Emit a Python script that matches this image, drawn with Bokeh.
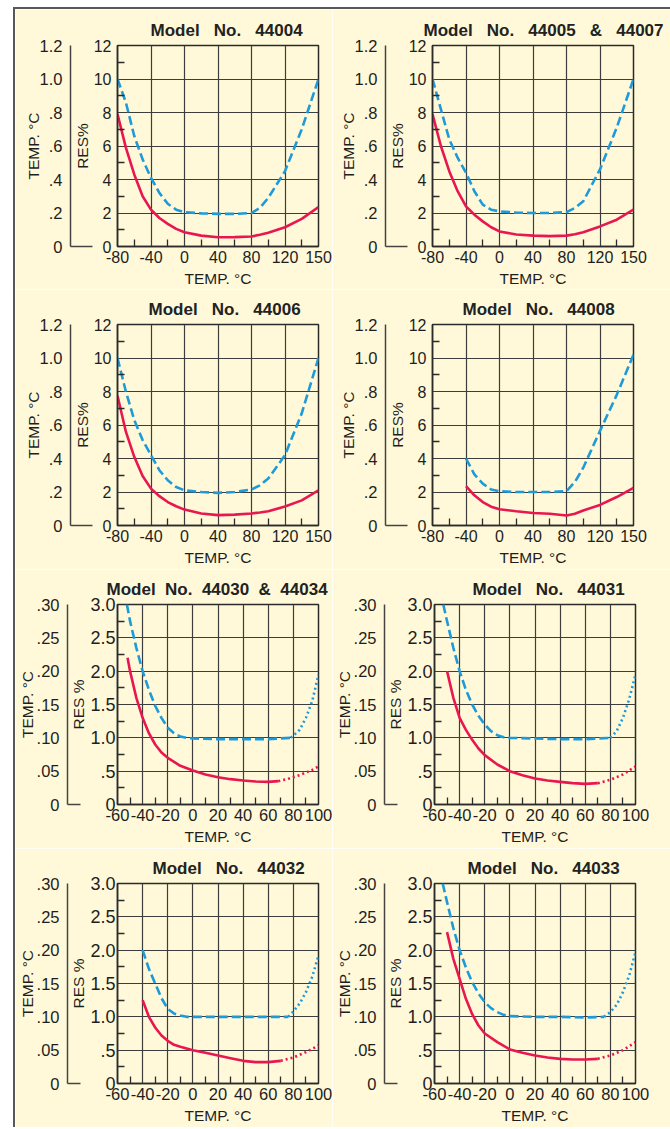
import numpy as np
from bokeh.plotting import figure
from bokeh.models import Range1d, LinearAxis, FixedTicker, Spacer
from bokeh.layouts import row, column
from bokeh.embed import file_html
from bokeh.resources import INLINE

# ---------------- data ----------------
top_x_temps = [-80, -40, 0, 40, 80, 120, 150]
top_x_labels = ["-80", "-40", "0", "40", "80", "120", "150"]
top_res_ticks = [0, 2, 4, 6, 8, 10, 12]
top_res_labels = ["0", "2", "4", "6", "8", "10", "12"]
top_temp_ticks = [0, 0.2, 0.4, 0.6, 0.8, 1.0, 1.2]
top_temp_labels = ["0", ".2", ".4", ".6", ".8", "1.0", "1.2"]

bot_x_ticks = [-60, -40, -20, 0, 20, 40, 60, 80, 100]
bot_x_labels = ["-60", "-40", "-20", "0", "20", "40", "60", "80", "100"]
bot_res_ticks = [0, 0.5, 1.0, 1.5, 2.0, 2.5, 3.0]
bot_res_labels = ["0", ".5", "1.0", "1.5", "2.0", "2.5", "3.0"]
bot_temp_ticks = [0, 0.05, 0.10, 0.15, 0.20, 0.25, 0.30]
bot_temp_labels = ["0", ".05", ".10", ".15", ".20", ".25", ".30"]

titles = ["Model No. 44004", "Model No. 44005 & 44007",
          "Model No. 44006", "Model No. 44008",
          "Model No. 44030 & 44034", "Model No. 44031",
          "Model No. 44032", "Model No. 44033"]

# Models 44004-44008 : RES% (dashed) and TEMP (solid) against temperature in deg C
t_44004 = [-80, -70, -60, -50, -40, -30, -20, -10, 0, 20, 40, 60, 80, 90, 100, 120, 135, 150]
res_44004 = [10.0, 8.6, 6.6, 5.2, 4.1, 3.2, 2.55, 2.2, 2.05, 1.98, 1.95, 1.95, 2.0, 2.3, 2.9, 4.5, 7.0, 10.0]
tmp_44004 = [7.9, 5.9, 4.3, 3.0, 2.2, 1.7, 1.35, 1.05, 0.85, 0.65, 0.55, 0.56, 0.6, 0.7, 0.82, 1.15, 1.65, 2.35]

t_44005 = [-80, -70, -60, -50, -40, -30, -20, -10, 0, 20, 40, 60, 80, 90, 100, 120, 135, 150]
res_44005 = [10.0, 8.2, 6.4, 5.3, 4.4, 3.3, 2.5, 2.2, 2.1, 2.02, 2.0, 2.0, 2.05, 2.3, 2.7, 4.6, 7.1, 10.0]
tmp_44005 = [7.9, 6.0, 4.5, 3.3, 2.4, 1.9, 1.5, 1.15, 0.9, 0.72, 0.65, 0.62, 0.65, 0.73, 0.85, 1.2, 1.6, 2.2]

t_44006 = [-80, -70, -60, -50, -40, -30, -20, -10, 0, 20, 40, 60, 80, 90, 100, 120, 135, 150]
res_44006 = [10.0, 8.0, 6.3, 5.1, 4.2, 3.3, 2.7, 2.3, 2.1, 2.0, 1.95, 2.0, 2.15, 2.4, 2.8, 4.2, 6.7, 10.0]
tmp_44006 = [7.75, 5.6, 4.1, 2.95, 2.2, 1.75, 1.4, 1.15, 0.95, 0.72, 0.62, 0.65, 0.72, 0.78, 0.85, 1.13, 1.5, 2.1]

t_44008 = [-40, -30, -20, -10, 0, 20, 40, 60, 80, 90, 100, 120, 135, 150]
res_44008 = [4.0, 3.05, 2.5, 2.15, 2.05, 2.0, 2.0, 2.0, 2.05, 2.6, 3.45, 5.65, 7.8, 10.2]
tmp_44008 = [2.35, 1.8, 1.4, 1.12, 0.97, 0.85, 0.75, 0.7, 0.6, 0.7, 0.9, 1.23, 1.7, 2.25]

# Models 44030-44033 : main part and dotted extension
t_res_44030 = [-52.5, -50, -45, -40, -35, -30, -25, -20, -15, -10, -5, 0, 20, 40, 60, 78]
res_44030 = [3.0, 2.75, 2.35, 2.0, 1.72, 1.48, 1.3, 1.15, 1.07, 1.02, 1.0, 0.99, 0.98, 0.98, 0.98, 1.0]
t_res_ext_44030 = [78, 85, 90, 95, 100]
res_ext_44030 = [1.0, 1.12, 1.3, 1.55, 1.95]
t_tmp_44030 = [-52, -50, -45, -40, -35, -30, -25, -20, -10, 0, 10, 20, 30, 40, 50, 60, 68]
tmp_44030 = [2.2, 2.0, 1.6, 1.3, 1.07, 0.9, 0.78, 0.7, 0.58, 0.51, 0.45, 0.41, 0.38, 0.36, 0.345, 0.34, 0.35]
t_tmp_ext_44030 = [68, 75, 80, 85, 90, 95, 100]
tmp_ext_44030 = [0.35, 0.38, 0.41, 0.44, 0.48, 0.52, 0.57]

t_res_44031 = [-53, -50, -45, -40, -35, -30, -25, -20, -15, -10, -5, 0, 20, 40, 60, 80]
res_44031 = [3.0, 2.75, 2.35, 2.0, 1.72, 1.5, 1.33, 1.2, 1.1, 1.04, 1.01, 1.0, 0.99, 0.98, 0.98, 1.0]
t_res_ext_44031 = [80, 85, 90, 95, 100]
res_ext_44031 = [1.0, 1.1, 1.3, 1.58, 1.95]
t_tmp_44031 = [-50, -45, -40, -35, -30, -25, -20, -10, 0, 10, 20, 30, 40, 50, 60, 70]
tmp_44031 = [2.0, 1.6, 1.3, 1.12, 0.97, 0.84, 0.74, 0.6, 0.5, 0.44, 0.39, 0.36, 0.34, 0.32, 0.31, 0.32]
t_tmp_ext_44031 = [70, 80, 90, 100]
tmp_ext_44031 = [0.32, 0.37, 0.45, 0.57]

t_res_44032 = [-40, -35, -30, -25, -20, -15, -10, -5, 0, 20, 40, 60, 76]
res_44032 = [2.0, 1.72, 1.5, 1.28, 1.12, 1.05, 1.02, 1.0, 1.0, 1.0, 1.0, 1.0, 1.0]
t_res_ext_44032 = [76, 80, 85, 90, 95, 100]
res_ext_44032 = [1.0, 1.08, 1.2, 1.37, 1.6, 1.92]
t_tmp_44032 = [-40, -35, -30, -25, -20, -15, -10, 0, 10, 20, 30, 40, 50, 60, 70]
tmp_44032 = [1.25, 1.0, 0.84, 0.72, 0.64, 0.58, 0.55, 0.5, 0.46, 0.42, 0.38, 0.34, 0.32, 0.32, 0.34]
t_tmp_ext_44032 = [70, 80, 90, 100]
tmp_ext_44032 = [0.34, 0.39, 0.47, 0.57]

t_res_44033 = [-53.5, -50, -45, -40, -35, -30, -25, -20, -15, -10, -5, 0, 20, 40, 60, 75]
res_44033 = [3.0, 2.72, 2.33, 2.0, 1.74, 1.52, 1.35, 1.22, 1.13, 1.07, 1.03, 1.01, 1.0, 1.0, 0.99, 1.0]
t_res_ext_44033 = [75, 80, 85, 90, 95, 100]
res_ext_44033 = [1.0, 1.07, 1.18, 1.37, 1.62, 1.97]
t_tmp_44033 = [-50, -45, -40, -35, -30, -25, -20, -10, 0, 10, 20, 30, 40, 50, 60, 70]
tmp_44033 = [2.27, 1.87, 1.57, 1.27, 1.04, 0.87, 0.75, 0.62, 0.51, 0.46, 0.42, 0.39, 0.37, 0.36, 0.36, 0.37]
t_tmp_ext_44033 = [70, 80, 90, 100]
tmp_ext_44033 = [0.37, 0.42, 0.5, 0.62]

# ---------------- styles ----------------
CREAM = "#FFF9D9"
INK = "#2b2b2b"
GRID = "#3d3d3d"
BLUE = "#1F9AD9"
RED = "#E8174F"
FONT = "Liberation Sans"
TEXT = "#1e1e1e"


def style_text(ax, tick_fs, label_fs="15.5px"):
    ax.major_label_text_font = FONT
    ax.major_label_text_font_size = tick_fs
    ax.major_label_text_color = TEXT
    ax.axis_label_text_font = FONT
    ax.axis_label_text_font_size = label_fs
    ax.axis_label_text_font_style = "normal"
    ax.axis_label_text_color = TEXT


def make_panel(title, title_offset, title_gap, top, right_col, border_top, border_bottom, series):
    if top:
        xr, yr, tr = Range1d(0, 6), Range1d(0, 12), Range1d(0, 1.2)
        fh = 201
    else:
        xr, yr, tr = Range1d(-60, 100), Range1d(0, 3), Range1d(0, 0.30)
        fh = 200
    p = figure(frame_width=201, frame_height=fh, x_range=xr, y_range=yr,
               min_border_left=100 if right_col else 102,
               min_border_right=37 if right_col else 14,
               min_border_top=border_top, min_border_bottom=border_bottom,
               output_backend="svg", toolbar_location=None,
               background_fill_color=CREAM, border_fill_color=CREAM,
               outline_line_color=INK, outline_line_width=1.5)
    p.extra_y_ranges = {"temp": tr}

    gap = "\u00a0" * title_gap
    p.title.text = title.replace(" ", gap)
    p.title.align = "left"
    p.title.offset = title_offset
    p.title.text_font = FONT
    p.title.text_font_size = "17px"
    p.title.text_font_style = "bold"
    p.title.text_color = "#222222"
    p.title.standoff = 11

    if top:
        xt = list(range(len(top_x_temps)))
        xminor = [i + 0.5 for i in xt[:-1]]
        xover = dict(zip(xt, top_x_labels))
        yt, ylab = top_res_ticks, top_res_labels
        yminor = [v + 1 for v in top_res_ticks[:-1]]
        tt, tlab = top_temp_ticks, top_temp_labels
        res_title = "RES%"
        foot = 22
        x_fs, res_fs, tmp_fs = "16px", "16px", "16.5px"
        spacer, res_standoff, tmp_lab_standoff = 9, 6, 8
    else:
        xt = bot_x_ticks
        xminor = [v + 10 for v in bot_x_ticks[:-1]]
        xover = dict(zip(xt, bot_x_labels))
        yt, ylab = bot_res_ticks, bot_res_labels
        yminor = [v + 0.25 for v in bot_res_ticks[:-1]]
        tt, tlab = bot_temp_ticks, bot_temp_labels
        res_title = "RES %"
        foot = 13
        x_fs, res_fs, tmp_fs = "16.5px", "18px", "16.5px"
        spacer, res_standoff, tmp_lab_standoff = 8, 2, -2

    # bottom axis
    xa = p.xaxis[0]
    xa.ticker = FixedTicker(ticks=xt, minor_ticks=xminor)
    xa.major_label_overrides = xover
    xa.major_tick_in = 0
    xa.major_tick_out = 0
    xa.minor_tick_in = 7
    xa.minor_tick_out = 0
    xa.minor_tick_line_color = INK
    xa.minor_tick_line_width = 1.3
    xa.axis_line_color = INK
    xa.axis_line_width = 1.5
    xa.major_label_standoff = 4
    xa.axis_label = "TEMP. \u00b0C"
    xa.axis_label_standoff = 4
    style_text(xa, x_fs)

    # RES axis
    ya = p.yaxis[0]
    ya.ticker = FixedTicker(ticks=yt, minor_ticks=yminor)
    ya.major_label_overrides = dict(zip(yt, ylab))
    ya.major_tick_in = 0
    ya.major_tick_out = 0
    ya.minor_tick_in = 7
    ya.minor_tick_out = 0
    ya.minor_tick_line_color = INK
    ya.minor_tick_line_width = 1.3
    ya.axis_line_color = INK
    ya.axis_line_width = 1.5
    ya.major_label_standoff = res_standoff
    ya.axis_label = res_title
    ya.axis_label_standoff = 0
    style_text(ya, res_fs)

    # invisible spacer axis between the two vertical scales
    sp = LinearAxis(y_range_name="temp", ticker=FixedTicker(ticks=[]),
                    axis_line_color=None, major_tick_out=spacer, major_tick_in=0,
                    major_tick_line_color=None, minor_tick_out=0, minor_tick_in=0,
                    minor_tick_line_color=None)
    p.add_layout(sp, "left")

    # TEMP axis
    ta = LinearAxis(y_range_name="temp",
                    ticker=FixedTicker(ticks=tt, minor_ticks=[0]),
                    major_label_overrides=dict(zip(tt, tlab)),
                    major_tick_in=0, major_tick_out=0,
                    minor_tick_in=foot, minor_tick_out=0,
                    minor_tick_line_color="#444444", minor_tick_line_width=1.5,
                    axis_line_color="#444444", axis_line_width=1.5,
                    major_label_standoff=8,
                    axis_label="TEMP. \u00b0C",
                    axis_label_standoff=-5 if top else tmp_lab_standoff)
    style_text(ta, tmp_fs)
    p.add_layout(ta, "left")

    for g in (p.xgrid[0], p.ygrid[0]):
        g.grid_line_color = GRID
        g.grid_line_width = 1.2
    p.xgrid[0].ticker = FixedTicker(ticks=xt)
    p.ygrid[0].ticker = FixedTicker(ticks=yt)

    for xs, ys, kind in series:
        xs = np.asarray(xs, dtype=float)
        if top:
            xs = np.interp(xs, top_x_temps, np.arange(len(top_x_temps)))
        if kind == "dash":
            p.line(xs, ys, line_color=BLUE, line_width=2.6, line_dash="9 4")
        elif kind == "solid":
            p.line(xs, ys, line_color=RED, line_width=2.6)
        elif kind == "dot_blue":
            p.line(xs, ys, line_color=BLUE, line_width=2.6, line_dash="2 3")
        else:
            p.line(xs, ys, line_color=RED, line_width=2.6, line_dash="2 3")
    return p


f1 = make_panel(titles[0], 33, 3, True, False, 36, 43,
                [(t_44004, res_44004, "dash"), (t_44004, tmp_44004, "solid")])
f2 = make_panel(titles[1], -9, 3, True, True, 36, 43,
                [(t_44005, res_44005, "dash"), (t_44005, tmp_44005, "solid")])
f3 = make_panel(titles[2], 31, 3, True, False, 35, 44,
                [(t_44006, res_44006, "dash"), (t_44006, tmp_44006, "solid")])
f4 = make_panel(titles[3], 30, 3, True, True, 35, 44,
                [(t_44008, res_44008, "dash"), (t_44008, tmp_44008, "solid")])
f5 = make_panel(titles[4], -11, 2, False, False, 35, 44,
                [(t_res_44030, res_44030, "dash"), (t_res_ext_44030, res_ext_44030, "dot_blue"),
                 (t_tmp_44030, tmp_44030, "solid"), (t_tmp_ext_44030, tmp_ext_44030, "dot_red")])
f6 = make_panel(titles[5], 38, 3, False, True, 35, 44,
                [(t_res_44031, res_44031, "dash"), (t_res_ext_44031, res_ext_44031, "dot_blue"),
                 (t_tmp_44031, tmp_44031, "solid"), (t_tmp_ext_44031, tmp_ext_44031, "dot_red")])
f7 = make_panel(titles[6], 35, 3, False, False, 35, 44,
                [(t_res_44032, res_44032, "dash"), (t_res_ext_44032, res_ext_44032, "dot_blue"),
                 (t_tmp_44032, tmp_44032, "solid"), (t_tmp_ext_44032, tmp_ext_44032, "dot_red")])
f8 = make_panel(titles[7], 33, 3, False, True, 35, 44,
                [(t_res_44033, res_44033, "dash"), (t_res_ext_44033, res_ext_44033, "dot_blue"),
                 (t_tmp_44033, tmp_44033, "solid"), (t_tmp_ext_44033, tmp_ext_44033, "dot_red")])

grid = column(row(f1, f2), row(f3, f4), row(f5, f6), row(f7, f8))
H = 1120
BORDER = "#585858"
layout = column(
    Spacer(width=670, height=7),
    row(
        Spacer(width=13, height=H),
        Spacer(width=2, height=H, styles={"background-color": BORDER}),
        column(Spacer(width=655, height=2, styles={"background-color": BORDER}), grid),
    ),
)

open("out.html", "w").write(file_html(layout, INLINE))
